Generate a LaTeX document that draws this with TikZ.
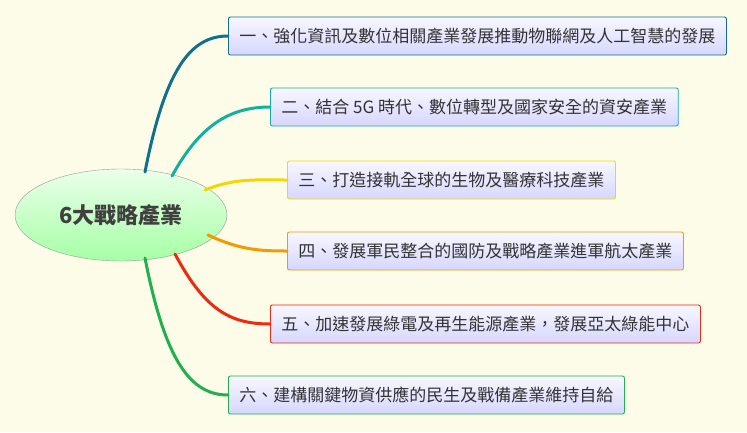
\documentclass[tikz,border=0pt]{standalone}
\usepackage{fontspec}
\setmainfont{Noto Sans CJK TC}
\usetikzlibrary{shapes.geometric}
\definecolor{bg}{HTML}{FCFCE8}
\definecolor{cA}{HTML}{12708E}
\definecolor{cB}{HTML}{12B0A0}
\definecolor{cC}{HTML}{F2D800}
\definecolor{cD}{HTML}{F29A00}
\definecolor{cE}{HTML}{EE2A10}
\definecolor{cF}{HTML}{20B050}
\tikzset{
 box/.style={draw=#1,rounded corners=2pt,line width=0.9pt,top color=blue!3,bottom color=blue!16,
   minimum height=38pt,inner xsep=11pt,anchor=west,font=\fontsize{17}{19}\selectfont,text=black!80},
 br/.style={draw=#1,line width=3pt,line cap=round}
}
\begin{document}
\begin{tikzpicture}[x=1pt,y=-1pt]
\fill[bg] (0,0) rectangle (747,432);
\useasboundingbox (0,0) rectangle (747,432);
\node[ellipse,draw=gray!80,top color=green!8,bottom color=green!35,minimum width=212pt,minimum height=92pt,
  font=\fontsize{22}{24}\selectfont\bfseries,text=black!75] (c) at (121,215) {6大戰略產業};
\node[box=cA] (b1) at (228,36) {一、強化資訊及數位相關產業發展推動物聯網及人工智慧的發展};
\node[box=cB] (b2) at (270,107) {二、結合 5G 時代、數位轉型及國家安全的資安產業};
\node[box=cC] (b3) at (287,180) {三、打造接軌全球的生物及醫療科技產業};
\node[box=cD] (b4) at (287,251) {四、發展軍民整合的國防及戰略產業進軍航太產業};
\node[box=cE] (b5) at (270,324) {五、加速發展綠電及再生能源產業，發展亞太綠能中心};
\node[box=cF] (b6) at (228,395) {六、建構關鍵物資供應的民生及戰備產業維持自給};
\coordinate (s1) at (145,172);
\coordinate (s2) at (172,176);
\coordinate (s3) at (205,190);
\coordinate (s4) at (208,235);
\coordinate (s5) at (175,254);
\coordinate (s6) at (145,258);
\draw[br=cA] (s1) .. controls (165,70) and (190,36) .. (b1.west);
\draw[br=cB] (s2) .. controls (200,125) and (230,107) .. (b2.west);
\draw[br=cC] (s3) .. controls (235,178) and (255,180) .. (b3.west);
\draw[br=cD] (s4) .. controls (240,250) and (260,251) .. (b4.west);
\draw[br=cE] (s5) .. controls (205,310) and (230,324) .. (b5.west);
\draw[br=cF] (s6) .. controls (165,360) and (190,395) .. (b6.west);
\end{tikzpicture}
\end{document}
